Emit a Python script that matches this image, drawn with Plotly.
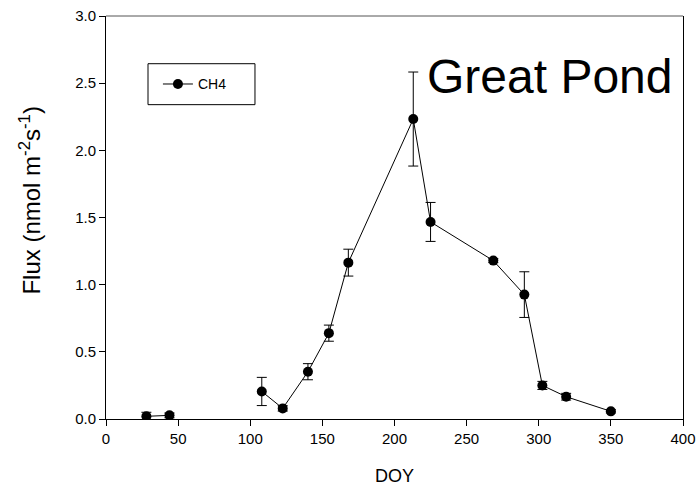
import plotly.graph_objects as go

doy = [28, 44, 108, 122.5, 140, 154.5, 168, 213, 225, 268.5, 290, 302.5, 319, 350]
flux = [0.02, 0.027, 0.205, 0.079, 0.352, 0.639, 1.164, 2.233, 1.467, 1.179, 0.926, 0.25, 0.166, 0.057]
err = [0.03, 0.018, 0.105, 0.02, 0.06, 0.06, 0.1, 0.35, 0.145, 0.015, 0.17, 0.03, 0.025, 0.012]
segments = [(0, 2), (2, 14)]  # line break between DOY 44 and 108

xticks = [0, 50, 100, 150, 200, 250, 300, 350, 400]
yticks = [0, 0.5, 1.0, 1.5, 2.0, 2.5, 3.0]
ytick_labels = ["0.0", "0.5", "1.0", "1.5", "2.0", "2.5", "3.0"]

FONT = "Arial, Liberation Sans, sans-serif"

fig = go.Figure()
for i, (a, b) in enumerate(segments):
    fig.add_trace(go.Scatter(
        x=doy[a:b], y=flux[a:b],
        mode="lines+markers",
        name="CH4",
        showlegend=(i == 1),
        line=dict(color="black", width=1),
        marker=dict(color="black", size=10, symbol="circle"),
        error_y=dict(type="data", array=err[a:b], visible=True,
                     color="black", thickness=1, width=5),
    ))

fig.update_layout(
    width=699, height=487,
    margin=dict(l=106, r=16, t=16, b=68, autoexpand=False),
    paper_bgcolor="white", plot_bgcolor="white",
    font=dict(family=FONT, color="black", size=15),
    legend=dict(
        x=0.09, y=0.87, xanchor="left", yanchor="top",
        borderwidth=0, bgcolor="rgba(0,0,0,0)",
        font=dict(size=14, family=FONT, color="black"),
    ),
    shapes=[
        dict(type="rect", xref="paper", yref="paper",
             x0=0.0728, x1=0.2582, y0=0.780, y1=0.8816,
             line=dict(color="black", width=1), fillcolor="rgba(0,0,0,0)"),
        dict(type="line", xref="paper", yref="paper",
             x0=0, x1=1, y0=1, y1=1, line=dict(color="#555555", width=1)),
    ],
    annotations=[
        dict(text="Great Pond", x=0.553, y=0.851, xref="paper", yref="paper",
             xanchor="left", yanchor="middle", showarrow=False,
             font=dict(size=48, family=FONT, color="black")),
        dict(text="Flux (nmol m<sup>-2</sup>s<sup>-1</sup>)", x=-0.131, y=0.543,
             xref="paper", yref="paper", textangle=-90, showarrow=False,
             xanchor="center", yanchor="middle",
             font=dict(size=24, family=FONT, color="black")),
        dict(text="DOY", x=0.5, y=-0.1417, xref="paper", yref="paper",
             showarrow=False, xanchor="center", yanchor="middle",
             font=dict(size=18, family=FONT, color="black")),
    ],
)

fig.update_xaxes(
    range=[0, 400], tickvals=xticks, automargin=False,
    showgrid=False, zeroline=False,
    showline=True, linecolor="black", linewidth=1, mirror=False,
    ticks="outside", ticklen=6, tickcolor="black", tickwidth=1,
    tickfont=dict(size=15, family=FONT, color="black"),
)
fig.update_yaxes(
    range=[0, 3.0], tickvals=yticks, ticktext=ytick_labels, automargin=False,
    showgrid=False, zeroline=False,
    showline=True, linecolor="black", linewidth=1, mirror=True,
    ticks="outside", ticklen=6, tickcolor="black", tickwidth=1,
    tickfont=dict(size=15, family=FONT, color="black"),
)

fig.write_html("out.html")
